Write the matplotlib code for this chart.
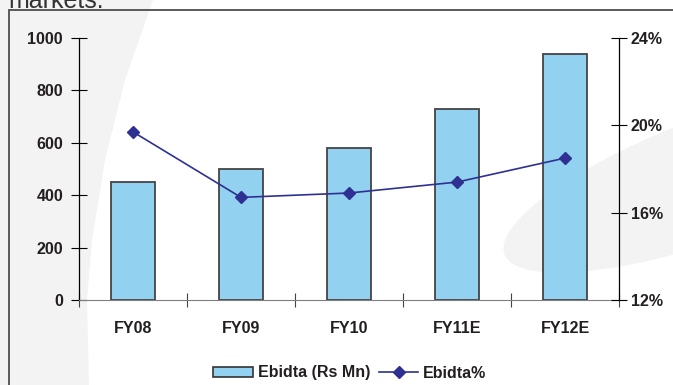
import matplotlib
matplotlib.use('Agg')
import matplotlib.pyplot as plt
from matplotlib.patches import Polygon, Ellipse, Rectangle, Patch
from matplotlib.lines import Line2D
from matplotlib.ticker import FixedLocator, FuncFormatter

years = ['FY08', 'FY09', 'FY10', 'FY11E', 'FY12E']
ebitda = [450, 500, 580, 730, 940]           # Rs Mn
ebitda_pct = [19.7, 16.7, 16.9, 17.4, 18.5]  # %

plt.rcParams['font.family'] = ['Liberation Sans', 'DejaVu Sans']
txt = '#231f20'
bar_col = '#92d1ef'
line_col = '#2e3192'
shade = '#f3f3f3'

fig = plt.figure(figsize=(6.73, 3.85), dpi=100)
W, H = 673, 385
px = fig.dpi_scale_trans

# page background shapes (pixel coords / 100 -> inches), kept behind the axes
left_pts = [(0, 0), (153, 0), (125, 80), (105, 160), (92, 240), (87, 300), (89, 385), (0, 385)]
fig.patches.append(Polygon([(x / 100, (H - y) / 100) for x, y in left_pts],
                           closed=True, transform=px, facecolor=shade, edgecolor='none', zorder=-2))
fig.patches.append(Ellipse((7.30, (H - 172) / 100), 4.8, 1.24, angle=20, transform=px,
                           facecolor=shade, edgecolor='none', zorder=-2))
fig.patches.append(Rectangle((0.09, -0.2), 7.0, (H - 9.5) / 100 + 0.2, transform=px,
                             facecolor='none', edgecolor='#4d4d4d', linewidth=1.3, zorder=-1))

fig.text(8 / W, (H - 8) / H, 'markets.', fontsize=18, color='#333333', va='baseline')

ax = fig.add_axes([79 / W, 85 / H, 540 / W, 262 / H])
ax.patch.set_alpha(0)
x = list(range(len(years)))
ax.bar(x, ebitda, width=0.41, color=bar_col, edgecolor='#444444', linewidth=1.3, zorder=2)
ax.set_xlim(-0.5, len(years) - 0.5)
ax.set_ylim(0, 1000)
ax.set_yticks(range(0, 1001, 200))
ax.set_xticks(x)
ax.set_xticklabels(years)
ax.xaxis.set_minor_locator(FixedLocator([i - 0.5 for i in range(len(years) + 1)]))
ax.tick_params(axis='x', which='major', length=0, pad=15)
ax.tick_params(axis='x', which='minor', direction='inout', length=10, width=0.8, color='#444444')
ax.tick_params(axis='y', direction='inout', length=11, width=0.8, pad=6)
for lab in ax.get_xticklabels() + ax.get_yticklabels():
    lab.set_fontweight('bold')
    lab.set_fontsize(11.5)
    lab.set_color(txt)
ax.spines['top'].set_visible(False)
ax.spines['right'].set_visible(False)
ax.spines['bottom'].set_color('#7f7f7f')
ax.spines['left'].set_linewidth(0.9)

ax2 = ax.twinx()
ax2.plot(x, ebitda_pct, color=line_col, marker='D', markersize=6.5, linewidth=1.2, zorder=3)
ax2.set_ylim(12, 24)
ax2.set_yticks([12, 16, 20, 24])
ax2.yaxis.set_major_formatter(FuncFormatter(lambda v, p: '%d%%' % v))
ax2.tick_params(axis='y', direction='inout', length=11, width=0.8, pad=3)
for lab in ax2.get_yticklabels():
    lab.set_fontweight('bold')
    lab.set_fontsize(11.5)
    lab.set_color(txt)
for s in ['top', 'left', 'bottom']:
    ax2.spines[s].set_visible(False)
ax2.spines['right'].set_linewidth(0.9)

handles = [Patch(facecolor=bar_col, edgecolor='#333333', linewidth=1.2),
           Line2D([], [], color=line_col, marker='D', markersize=6, linewidth=1.2)]
fig.legend(handles, ['Ebidta (Rs Mn)', 'Ebidta%'], loc='center', bbox_to_anchor=(350 / W, 1 - 373 / H),
           ncol=2, frameon=False, handlelength=2.5, handleheight=0.65, handletextpad=0.3,
           columnspacing=0.5, prop={'weight': 'bold', 'size': 11.5}, labelcolor=txt, numpoints=1)

fig.savefig('out.png', dpi=100)
